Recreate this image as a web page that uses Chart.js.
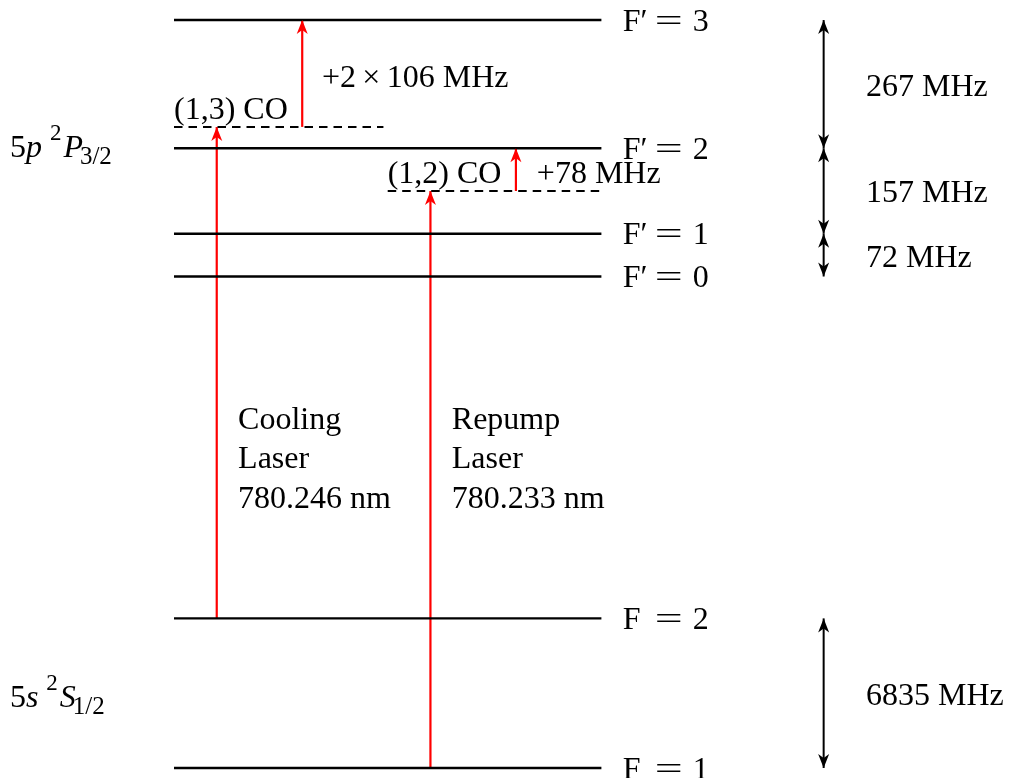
<!DOCTYPE html>
<html>
<head>
<meta charset="utf-8">
<script src="https://cdn.jsdelivr.net/npm/chart.js@4.4.0/dist/chart.umd.min.js"></script>
<style>
  html, body { margin: 0; padding: 0; background: #fff; }
  #wrap { width: 1010px; height: 778px; }
</style>
</head>
<body>
<div id="wrap"><canvas id="levels"></canvas></div>
<script>
// hyperfine levels (diagram units, not to scale)
const levelNames  = ["F = 1", "F = 2", "F′ = 0", "F′ = 1", "F′ = 2", "F′ = 3"];
const levelEnergy = [0, 3.5, 11.5, 12.5, 14.5, 17.5];

// crossover resonances, dashed
const coNames  = ["(1,3) CO", "(1,2) CO"];
const coEnergy = [15, 13.5];
const coFrom   = [0, 5];
const coTo     = [4.9, 10];

// laser transitions, red arrows
const laserX    = [1, 3, 6, 8];
const laserFrom = [3.5, 15, 0, 13.5];
const laserTo   = [15, 17.5, 13.5, 14.5];

// splittings, black double arrows
const splitNames = ["267 MHz", "157 MHz", "72 MHz", "6835 MHz"];
const splitFrom  = [14.5, 12.5, 11.5, 0];
const splitTo    = [17.5, 14.5, 12.5, 3.5];

const FONT = '"Liberation Serif", "DejaVu Serif", serif';
const FS = 32;

const datasets = [];
levelEnergy.forEach(e => datasets.push({
  data: [{ x: 0, y: e }, { x: 10, y: e }],
  borderColor: "#000", borderWidth: 2.4
}));
coEnergy.forEach((e, i) => datasets.push({
  data: [{ x: coFrom[i], y: e }, { x: coTo[i], y: e }],
  borderColor: "#000", borderWidth: 2, borderDash: [8.5, 6]
}));
laserX.forEach((x, i) => datasets.push({
  data: [{ x, y: laserFrom[i] }, { x, y: laserTo[i] }],
  borderColor: "#ff0000", borderWidth: 2.2, arrow: "end"
}));
splitFrom.forEach((f, i) => datasets.push({
  data: [{ x: 15.2, y: f }, { x: 15.2, y: splitTo[i] }],
  borderColor: "#000", borderWidth: 2, arrow: "both"
}));
datasets.forEach(d => { d.showLine = true; d.pointRadius = 0; d.fill = false; });

function head(ctx, tx, ty, dir, color) {
  // dir: -1 points up, +1 points down
  ctx.save();
  ctx.fillStyle = color;
  ctx.beginPath();
  ctx.moveTo(tx, ty);
  ctx.lineTo(tx - 5.5, ty - dir * 14);
  ctx.lineTo(tx, ty - dir * 10);
  ctx.lineTo(tx + 5.5, ty - dir * 14);
  ctx.closePath();
  ctx.fill();
  ctx.restore();
}

function txt(ctx, s, px, py, style) {
  ctx.font = (style || "") + " " + FS + "px " + FONT;
  ctx.fillText(s, px, py);
  return ctx.measureText(s).width;
}

// "F′ = 3" with a wide math equals sign
function relation(ctx, s, px, py) {
  const [lhs, rhs] = s.split(" = ");
  txt(ctx, lhs, px, py);
  ctx.save();
  ctx.translate(px + 46, py);
  ctx.scale(1.55, 1);
  ctx.textAlign = "center";
  txt(ctx, "=", 0, 0);
  ctx.restore();
  ctx.textAlign = "center";
  txt(ctx, rhs, px + 78, py);
  ctx.textAlign = "left";
}

// 5p ²P3/2 style term symbol
function term(ctx, px, py, n, l, L, J) {
  let cx = px;
  cx += txt(ctx, n, cx, py);
  cx += txt(ctx, l, cx, py, "italic") - 2;
  cx += 10;
  ctx.font = "23px " + FONT;
  ctx.fillText("2", cx, py - 17);
  cx += ctx.measureText("2").width + 2;
  const w = txt(ctx, L, cx, py, "italic");
  ctx.font = "25px " + FONT;
  ctx.fillText(J, cx + w - 3, py + 7);
}

const labels = {
  id: "labels",
  afterDatasetsDraw(chart) {
    const { ctx, scales: { x, y } } = chart;
    const cap = FS * 0.33;
    ctx.save();
    ctx.fillStyle = "#000";
    ctx.textBaseline = "alphabetic";
    ctx.textAlign = "left";

    // arrow heads
    chart.data.datasets.forEach((d, i) => {
      if (!d.arrow) return;
      const pts = chart.getDatasetMeta(i).data;
      const a = pts[0], b = pts[1];
      const dir = b.y < a.y ? -1 : 1;
      head(ctx, b.x, b.y, dir, d.borderColor);
      if (d.arrow === "both") head(ctx, a.x, a.y, -dir, d.borderColor);
    });

    // level names
    levelNames.forEach((s, i) => {
      relation(ctx, s, x.getPixelForValue(10.5), y.getPixelForValue(levelEnergy[i]) + cap);
    });

    // crossover names and detunings
    txt(ctx, coNames[0], x.getPixelForValue(0), y.getPixelForValue(15.44) + cap);
    txt(ctx, coNames[1], x.getPixelForValue(5), y.getPixelForValue(13.94) + cap);
    txt(ctx, "+2\u2009×\u2009106 MHz", x.getPixelForValue(3.46), y.getPixelForValue(16.19) + cap);
    txt(ctx, "+78 MHz", x.getPixelForValue(8.49), y.getPixelForValue(13.94) + cap);

    // laser names
    const cool = ["Cooling", "Laser", "780.246 nm"];
    const rep  = ["Repump", "Laser", "780.233 nm"];
    const rows = [8.17, 7.26, 6.34];
    rows.forEach((r, k) => {
      txt(ctx, cool[k], x.getPixelForValue(1.5), y.getPixelForValue(r) + cap);
      txt(ctx, rep[k], x.getPixelForValue(6.5), y.getPixelForValue(r) + cap);
    });

    // splittings
    const splitY = [15.98, 13.5, 11.96, 1.71];
    splitNames.forEach((s, i) => {
      txt(ctx, s, x.getPixelForValue(16.19), y.getPixelForValue(splitY[i]) + cap);
    });

    // term symbols
    term(ctx, x.getPixelForValue(-3.84), y.getPixelForValue(14.3), "5", "p", "P", "3/2");
    term(ctx, x.getPixelForValue(-3.84), y.getPixelForValue(1.43), "5", "s", "S", "1/2");
    ctx.restore();
  }
};

const U = 42.74;
new Chart(document.getElementById("levels"), {
  type: "scatter",
  data: { datasets },
  options: {
    responsive: true,
    maintainAspectRatio: false,
    animation: false,
    layout: { padding: 0 },
    plugins: { legend: { display: false }, tooltip: { enabled: false } },
    scales: {
      x: { type: "linear", display: false, min: -174 / U, max: (1010 - 174) / U },
      y: { type: "linear", display: false, min: -10 / U, max: 768 / U }
    }
  },
  plugins: [labels]
});
</script>
</body>
</html>
